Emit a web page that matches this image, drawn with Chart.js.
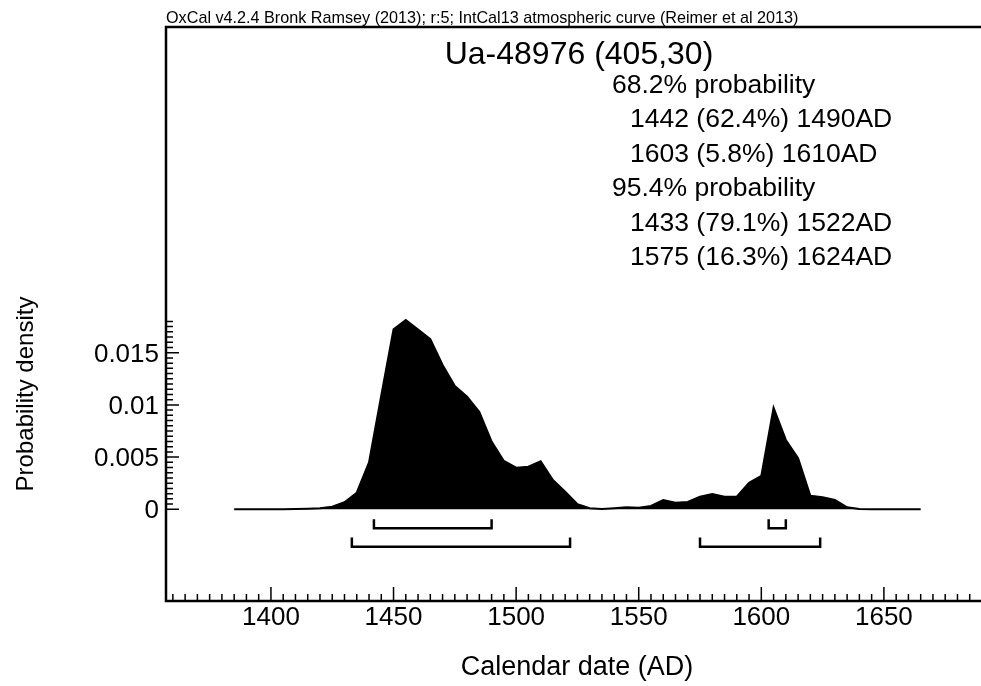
<!DOCTYPE html>
<html>
<head>
<meta charset="utf-8">
<script src="https://cdn.jsdelivr.net/npm/chart.js@4.4.1/dist/chart.umd.min.js"></script>
<style>
  html, body { margin: 0; padding: 0; background: #fff; overflow: hidden; }
  #wrap { width: 981px; height: 686px; position: relative; }
</style>
</head>
<body>
<div id="wrap"><canvas id="oxcal"></canvas></div>
<script>
// calendar years of the probability curve (5 year resolution)
const years = [
  1385, 1390, 1395, 1400, 1405, 1410, 1415, 1420, 1425, 1430,
  1435, 1440, 1445, 1450, 1455, 1460, 1465, 1470, 1475, 1480,
  1485, 1490, 1495, 1500, 1505, 1510, 1515, 1520, 1525, 1530,
  1535, 1540, 1545, 1550, 1555, 1560, 1565, 1570, 1575, 1580,
  1585, 1590, 1595, 1600, 1605, 1610, 1615, 1620, 1625, 1630,
  1635, 1640, 1645, 1650, 1655, 1660, 1665
];

// probability density
const density = [
  0, 0, 0, 0.000005, 0.00001, 0.00002, 0.00005, 0.0001, 0.00025, 0.00067,
  0.00159, 0.0045, 0.0109, 0.01724, 0.01813, 0.01721, 0.01629, 0.01382, 0.01181, 0.01079,
  0.00932, 0.00648, 0.00463, 0.00399, 0.00408, 0.0046, 0.00281, 0.00169, 0.00048, 0.0001,
  0.00003, 0.0001, 0.00019, 0.00015, 0.00032, 0.00089, 0.00063, 0.0007, 0.00121, 0.00147,
  0.00121, 0.00121, 0.00255, 0.00319, 0.00973, 0.00664, 0.00489, 0.0013, 0.00115, 0.00089,
  0.00019, 0.00003, 0.00001, 0, 0, 0, 0
];

// highest probability ranges
const range68 = [[1442, 1490], [1603, 1610]];
const range95 = [[1433, 1522], [1575, 1624]];

const xTicks = [1400, 1450, 1500, 1550, 1600, 1650];
const yTicks = [0, 0.005, 0.01, 0.015];
const yTickLabels = ["0", "0.005", "0.01", "0.015"];

const caption = "OxCal v4.2.4 Bronk Ramsey (2013); r:5; IntCal13 atmospheric curve (Reimer et al 2013)";
const sampleTitle = "Ua-48976 (405,30)";
const summary = [
  ["68.2% probability", 0],
  ["1442 (62.4%) 1490AD", 1],
  ["1603 (5.8%) 1610AD", 1],
  ["95.4% probability", 0],
  ["1433 (79.1%) 1522AD", 1],
  ["1575 (16.3%) 1624AD", 1]
];

const FONT = "'Liberation Sans', Arial, Helvetica, sans-serif";

// bracket under the curve: |_____| shape
function bracket(r, lineLevel, endLevel) {
  return [
    { x: r[0], y: endLevel },
    { x: r[0], y: lineLevel },
    { x: r[1], y: lineLevel },
    { x: r[1], y: endLevel }
  ];
}

const bracketStyle = {
  borderColor: "#000",
  borderWidth: 2.5,
  pointRadius: 0,
  fill: false,
  tension: 0
};

const datasets = [
  {
    label: "density",
    data: years.map((yr, i) => ({ x: yr, y: density[i] })),
    borderColor: "#000",
    backgroundColor: "#000",
    borderWidth: 2,
    pointRadius: 0,
    fill: "origin",
    tension: 0
  }
];
range68.forEach(r => datasets.push({ ...bracketStyle, data: bracket(r, -0.00182, -0.00096) }));
range95.forEach(r => datasets.push({ ...bracketStyle, data: bracket(r, -0.00358, -0.0027) }));

const oxcalAxes = {
  id: "oxcalAxes",
  afterDraw(chart) {
    const { ctx, chartArea: a, scales: { x, y } } = chart;
    ctx.save();
    ctx.strokeStyle = "#000";
    ctx.fillStyle = "#000";

    // frame: top, left, bottom
    ctx.lineWidth = 2.5;
    ctx.lineJoin = "miter";
    ctx.beginPath();
    ctx.moveTo(a.right + 2, a.top);
    ctx.lineTo(a.left, a.top);
    ctx.lineTo(a.left, a.bottom);
    ctx.lineTo(a.right + 2, a.bottom);
    ctx.stroke();

    // x ticks, every 5 years, major every 50
    ctx.lineWidth = 1.5;
    ctx.beginPath();
    for (let yr = 1360; yr <= 1685; yr += 5) {
      const px = x.getPixelForValue(yr);
      const len = yr % 50 === 0 ? 14 : 7;
      ctx.moveTo(px, a.bottom);
      ctx.lineTo(px, a.bottom - len);
    }
    // y ticks, every 0.0005 up to 0.018
    for (let k = 0; k <= 36; k++) {
      const py = y.getPixelForValue(k * 0.0005);
      const len = k % 10 === 0 ? 13 : 7;
      ctx.moveTo(a.left, py);
      ctx.lineTo(a.left + len, py);
    }
    ctx.stroke();

    // tick labels
    ctx.font = "26px " + FONT;
    ctx.textAlign = "center";
    ctx.textBaseline = "alphabetic";
    xTicks.forEach(t => ctx.fillText(String(t), x.getPixelForValue(t), 625));

    ctx.textAlign = "right";
    yTicks.forEach((t, i) => ctx.fillText(yTickLabels[i], 159, y.getPixelForValue(t) + 9));

    // axis titles
    ctx.font = "27px " + FONT;
    ctx.textAlign = "center";
    ctx.fillText("Calendar date (AD)", 577, 675);

    ctx.save();
    ctx.font = "24px " + FONT;
    ctx.translate(33, 394);
    ctx.rotate(-Math.PI / 2);
    ctx.fillText("Probability density", 0, 0);
    ctx.restore();

    // caption above the frame
    ctx.font = "16.2px " + FONT;
    ctx.textAlign = "left";
    ctx.fillText(caption, 166, 23);

    // sample name and ranges
    ctx.font = "32px " + FONT;
    ctx.textAlign = "center";
    ctx.fillText(sampleTitle, 579, 64);

    ctx.font = "26.5px " + FONT;
    ctx.textAlign = "left";
    summary.forEach((row, i) => {
      ctx.fillText(row[0], row[1] ? 630 : 612, 93 + i * 34.4);
    });

    ctx.restore();
  }
};

new Chart(document.getElementById("oxcal"), {
  type: "line",
  data: { datasets: datasets },
  options: {
    responsive: true,
    maintainAspectRatio: false,
    animation: false,
    layout: { padding: { left: 166, top: 27, right: 0, bottom: 85 } },
    plugins: { legend: { display: false }, tooltip: { enabled: false } },
    scales: {
      x: { type: "linear", min: 1357.2, max: 1689.6, display: false },
      y: { type: "linear", min: -0.008784, max: 0.046197, display: false }
    }
  },
  plugins: [oxcalAxes]
});
</script>
</body>
</html>
